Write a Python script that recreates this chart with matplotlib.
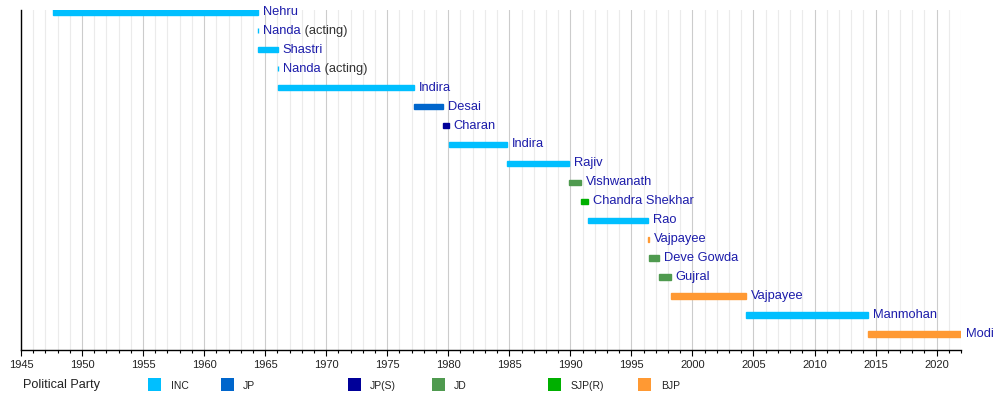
import matplotlib
matplotlib.use("Agg")
import matplotlib.pyplot as plt
from matplotlib.patches import Rectangle
from matplotlib.ticker import MultipleLocator

plt.rcParams['font.family'] = ['Liberation Sans', 'DejaVu Sans']

names = ["Nehru", "Nanda", "Shastri", "Nanda", "Indira", "Desai", "Charan", "Indira",
         "Rajiv", "Vishwanath", "Chandra Shekhar", "Rao", "Vajpayee", "Deve Gowda",
         "Gujral", "Vajpayee", "Manmohan", "Modi"]
acting = [False, True, False, True, False, False, False, False, False, False,
          False, False, False, False, False, False, False, False]
starts = [1947.62, 1964.40, 1964.44, 1966.03, 1966.07, 1977.23, 1979.54, 1980.04,
          1984.83, 1989.92, 1990.87, 1991.47, 1996.37, 1996.42, 1997.30, 1998.21,
          2004.39, 2014.39]
ends = [1964.40, 1964.44, 1966.03, 1966.07, 1977.23, 1979.54, 1980.04, 1984.83,
        1989.92, 1990.87, 1991.47, 1996.37, 1996.42, 1997.30, 1998.21, 2004.39,
        2014.39, 2022.0]
parties = ["INC", "INC", "INC", "INC", "INC", "JP", "JP(S)", "INC", "INC", "JD",
           "SJP(R)", "INC", "BJP", "JD", "JD", "BJP", "INC", "BJP"]

party_names = ["INC", "JP", "JP(S)", "JD", "SJP(R)", "BJP"]
party_colors = ["#00BFFF", "#0066CC", "#000099", "#4F9A4F", "#00B000", "#FF9933"]
color_of = dict(zip(party_names, party_colors))

xmin, xmax = 1945, 2022.0

fig = plt.figure(figsize=(10, 4), dpi=100)
ax = fig.add_axes([0.021, 0.125, 0.940, 0.850])

rows = list(range(len(names)))
widths = [e - s for s, e in zip(starts, ends)]
cols = [color_of[p] for p in parties]
ax.barh(rows, widths, left=starts, height=0.28, color=cols, edgecolor=cols,
        linewidth=1.0, zorder=3)

label_color = "#1C1CAA"
for r, n, e, a in zip(rows, names, ends, acting):
    t = ax.annotate(n, xy=(e, r), xytext=(3.5, 0), textcoords="offset points",
                    ha="left", va="center", fontsize=9.3, color=label_color, zorder=4)
    if a:
        ax.annotate(" (acting)", xy=(1, 0), xycoords=t, ha="left", va="bottom",
                    fontsize=9.3, color="#333333", zorder=4)

ax.set_xlim(xmin, xmax)
ax.set_ylim(17.85, -0.1)
ax.xaxis.set_major_locator(MultipleLocator(5))
ax.xaxis.set_minor_locator(MultipleLocator(1))
ax.grid(which="major", axis="x", color="#CCCCCC", linewidth=0.8, zorder=0)
ax.grid(which="minor", axis="x", color="#EBEBEB", linewidth=0.8, zorder=0)
ax.set_axisbelow(True)
ax.tick_params(axis="x", which="major", length=4, width=0.8, color="black",
               labelsize=8, pad=3, labelcolor="#222222")
ax.tick_params(axis="x", which="minor", length=2.2, width=0.8, color="black")
ax.set_yticks([])
for s in ["top", "right"]:
    ax.spines[s].set_visible(False)
ax.spines["left"].set_color("black")
ax.spines["bottom"].set_color("black")
ax.spines["left"].set_linewidth(1.0)
ax.spines["bottom"].set_linewidth(1.0)

# legend
fig.text(0.023, 1 - 385 / 400, "Political Party", fontsize=9.2, color="#222222",
         ha="left", va="center")
sq_x = [148, 221, 348, 432, 548, 638]
lab_x = [171, 243, 370, 454, 571, 661]
for p, c, sx, lx in zip(party_names, party_colors, sq_x, lab_x):
    fig.patches.append(Rectangle((sx / 1000, 1 - 391 / 400), 13 / 1000, 13 / 400,
                                 transform=fig.transFigure, facecolor=c,
                                 edgecolor="none"))
    fig.text(lx / 1000, 1 - 386 / 400, p, fontsize=7.5, color="#222222",
             ha="left", va="center")

fig.savefig("out.png", dpi=100)
